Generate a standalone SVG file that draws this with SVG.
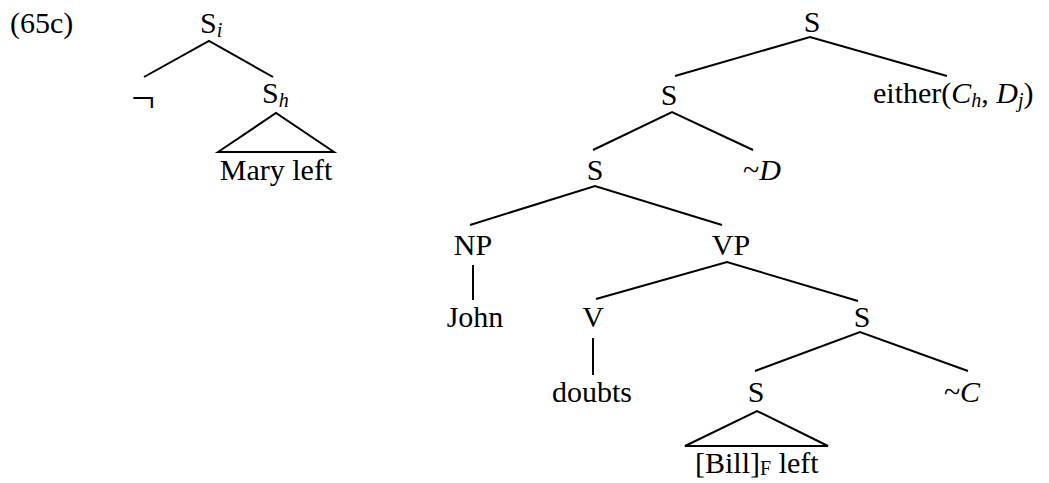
<svg xmlns="http://www.w3.org/2000/svg" width="1049" height="483" viewBox="0 0 1049 483">
  <style>
    text { font-family: "Liberation Serif", "Times New Roman", serif; font-size: 30px; fill: #000; }
    .m { text-anchor: middle; }
    .it { font-style: italic; }
    .sub { font-size: 20px; }
    .neg { font-size: 42px; }
    .edge { stroke: #000; stroke-width: 2; fill: none; }
  </style>
  <rect width="1049" height="483" fill="#fff"/>

  <text x="10" y="33">(65c)</text>

  <!-- left tree: negation -->
  <g id="n-si"><text x="200" y="33">S<tspan class="it sub" dy="4">i</tspan></text></g>
  <g id="n-neg"><text x="143" y="112" class="m neg">¬</text></g>
  <g id="n-sh"><text x="262" y="103">S<tspan class="it sub" dy="4">h</tspan></text></g>
  <g id="n-mary"><text x="276" y="180" class="m">Mary left</text></g>

  <!-- right tree -->
  <g id="n-s0"><text x="812" y="32" class="m">S</text></g>
  <g id="n-s1"><text x="669" y="105" class="m">S</text></g>
  <g id="n-either"><text x="873" y="103">either(<tspan class="it">C</tspan><tspan class="it sub" dy="4">h</tspan><tspan dy="-4">, </tspan><tspan class="it">D</tspan><tspan class="it sub" dy="4">j</tspan><tspan dy="-4">)</tspan></text></g>
  <g id="n-s2"><text x="595" y="180" class="m">S</text></g>
  <g id="n-d"><text x="762" y="180" class="m">~<tspan class="it">D</tspan></text></g>
  <g id="n-np"><text x="473" y="255" class="m">NP</text></g>
  <g id="n-vp"><text x="731" y="255" class="m">VP</text></g>
  <g id="n-john"><text x="475" y="327" class="m">John</text></g>
  <g id="n-v"><text x="593" y="327" class="m">V</text></g>
  <g id="n-s3"><text x="862" y="327" class="m">S</text></g>
  <g id="n-doubts"><text x="592" y="402" class="m">doubts</text></g>
  <g id="n-s4"><text x="756" y="402" class="m">S</text></g>
  <g id="n-c"><text x="962" y="402" class="m">~<tspan class="it">C</tspan></text></g>
  <g id="n-bill"><text x="695" y="473">[Bill]<tspan class="sub" dy="2">F</tspan><tspan dy="-2"> left</tspan></text></g>

  <g id="connectors" class="edge">
    <path class="edge" d="M144,77 L209,41 L273,77"/>
    <path class="edge" d="M218,152 L276,113 L334,152 Z"/>
    <path class="edge" d="M675,76 L810,37 L947,76"/>
    <path class="edge" d="M593,150 L672,112 L753,150"/>
    <path class="edge" d="M470,225 L595,186 L722,225"/>
    <path class="edge" d="M473,265 L473,300"/>
    <path class="edge" d="M596,299 L727,262 L858,301"/>
    <path class="edge" d="M593,338 L593,375"/>
    <path class="edge" d="M755,371 L860,332 L968,371"/>
    <path class="edge" d="M685,446 L757,411 L828,446 Z"/>
  </g>
</svg>
